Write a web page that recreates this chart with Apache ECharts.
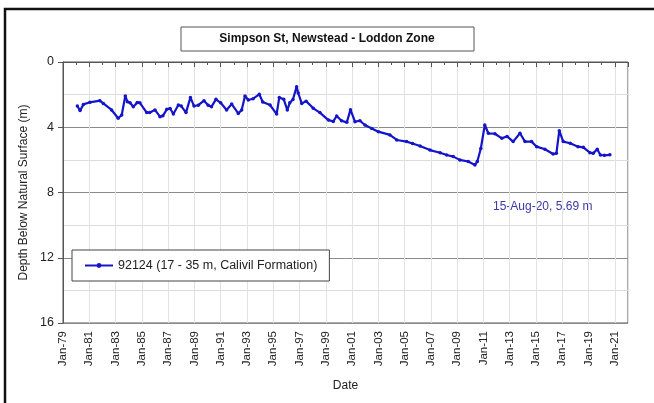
<!DOCTYPE html>
<html>
<head>
<meta charset="utf-8">
<script src="https://cdn.jsdelivr.net/npm/echarts@6/dist/echarts.min.js"></script>
<style>
  html, body { margin: 0; padding: 0; background: #fff; }
  #chart { width: 654px; height: 403px; }
</style>
</head>
<body>
<div id="chart"></div>
<script>
// bore 92124 readings: decimal year and depth below surface (m)
var years = [
  1980.09, 1980.3, 1980.55, 1981.05, 1981.8, 1982.07, 1982.7, 1983.2, 1983.47, 1983.74,
  1983.9, 1984.1, 1984.35, 1984.65, 1984.85, 1985.37, 1985.6, 1986.0, 1986.38, 1986.6,
  1986.9, 1987.15, 1987.4, 1987.78, 1988.0, 1988.36, 1988.7, 1988.97, 1989.3, 1989.73,
  1990.05, 1990.3, 1990.64, 1991.0, 1991.45, 1991.84, 1992.34, 1992.6, 1992.85, 1993.1,
  1993.47, 1993.94, 1994.2, 1994.76, 1995.26, 1995.46, 1995.8, 1996.07, 1996.26, 1996.5,
  1996.78, 1996.9, 1997.17, 1997.5, 1998.05, 1998.55, 1999.2, 1999.57, 1999.83, 2000.2,
  2000.6, 2000.88, 2001.22, 2001.6, 2001.98, 2002.5, 2003.0, 2003.88, 2004.4, 2005.15,
  2005.6, 2006.17, 2006.93, 2007.7, 2008.2, 2008.7, 2009.2, 2009.84, 2010.35, 2010.53,
  2010.8, 2011.1, 2011.37, 2011.87, 2012.4, 2012.8, 2013.26, 2013.78, 2014.16, 2014.66,
  2015.05, 2015.68, 2016.3, 2016.55, 2016.77, 2017.07, 2017.6, 2018.2, 2018.6, 2019.1,
  2019.35, 2019.66, 2019.9, 2020.2, 2020.62
];
var depths = [
  2.70, 2.98, 2.60, 2.47, 2.37, 2.54, 2.94, 3.45, 3.25, 2.08,
  2.43, 2.50, 2.74, 2.49, 2.50, 3.10, 3.10, 2.94, 3.35, 3.30,
  2.90, 2.85, 3.19, 2.64, 2.70, 3.10, 2.17, 2.70, 2.65, 2.37,
  2.65, 2.74, 2.29, 2.50, 2.94, 2.58, 3.15, 2.94, 2.08, 2.33,
  2.25, 1.98, 2.45, 2.64, 3.19, 2.17, 2.29, 2.94, 2.50, 2.30,
  1.51, 1.90, 2.54, 2.40, 2.84, 3.10, 3.56, 3.64, 3.31, 3.60,
  3.70, 2.92, 3.66, 3.60, 3.86, 4.07, 4.27, 4.47, 4.78, 4.88,
  5.00, 5.15, 5.40, 5.56, 5.70, 5.80, 6.00, 6.10, 6.31, 6.10,
  5.30, 3.86, 4.37, 4.40, 4.68, 4.56, 4.88, 4.37, 4.88, 4.88,
  5.19, 5.35, 5.64, 5.60, 4.21, 4.88, 4.98, 5.19, 5.23, 5.56,
  5.60, 5.35, 5.70, 5.72, 5.69
];
var seriesName = '92124 (17 - 35 m, Calivil Formation)';
var chartTitle = 'Simpson St, Newstead - Loddon Zone';
var latestNote = '15-Aug-20, 5.69 m';

var points = years.map(function (y, i) { return [y, depths[i]]; });

var chart = echarts.init(document.getElementById('chart'));
var font = 'Liberation Sans, Arial, sans-serif';

chart.setOption({
  animation: false,
  textStyle: { fontFamily: font },
  grid: {
    left: 63, top: 62, right: 26, bottom: 80,
    show: true, borderColor: '#555', borderWidth: 1
  },
  graphic: [
    {
      type: 'rect',
      shape: { x: 5, y: 9, width: 700, height: 500 },
      style: { fill: 'none', stroke: '#111', lineWidth: 2.5 },
      silent: true
    },
    {
      type: 'rect',
      shape: { x: 181, y: 27, width: 293, height: 24 },
      style: { fill: '#fff', stroke: '#555', lineWidth: 1 },
      silent: true
    },
    {
      type: 'text',
      x: 327, y: 39,
      style: {
        text: chartTitle, align: 'center', verticalAlign: 'middle',
        font: 'bold 12px ' + font, fill: '#111'
      }
    },
    {
      type: 'text',
      x: 493, y: 207,
      style: {
        text: latestNote, align: 'left', verticalAlign: 'middle',
        font: '12px ' + font, fill: '#3a3aa8'
      }
    }
  ],
  legend: {
    left: 72, top: 250,
    padding: [9, 12, 9, 12],
    width: 256,
    backgroundColor: '#fff',
    borderColor: '#444',
    borderWidth: 1,
    itemWidth: 28,
    itemHeight: 6,
    itemGap: 4,
    textStyle: { fontSize: 12.5, color: '#222', fontFamily: font },
    data: [seriesName]
  },
  xAxis: {
    type: 'value',
    min: 1979, max: 2022, interval: 2,
    name: 'Date', nameLocation: 'middle', nameGap: 57,
    nameTextStyle: { fontSize: 12, color: '#222' },
    axisLine: { lineStyle: { color: '#555' } },
    axisTick: { show: true, length: 5, lineStyle: { color: '#555' } },
    minorTick: { show: true, splitNumber: 2, length: 3, lineStyle: { color: '#555' } },
    axisLabel: {
      rotate: 90, fontSize: 11.5, color: '#222', margin: 8,
      showMaxLabel: false,
      formatter: function (v) {
        var yy = Math.round(v) % 100;
        return 'Jan-' + (yy < 10 ? '0' : '') + yy;
      }
    },
    splitLine: { show: true, lineStyle: { color: '#e2e2e2' } }
  },
  yAxis: {
    type: 'value',
    inverse: true,
    min: 0, max: 16, interval: 4,
    name: 'Depth Below Natural Surface (m)', nameLocation: 'middle', nameGap: 32,
    nameTextStyle: { fontSize: 12, color: '#222' },
    axisLine: { show: true, lineStyle: { color: '#555' } },
    axisTick: { show: true, length: 5, lineStyle: { color: '#555' } },
    axisLabel: { fontSize: 12.5, color: '#222', margin: 9 },
    splitLine: { show: true, lineStyle: { color: '#8a8a8a' } },
    minorTick: { show: false, splitNumber: 2 },
    minorSplitLine: { show: true, lineStyle: { color: '#dcdcdc' } }
  },
  series: [
    {
      name: seriesName,
      type: 'line',
      data: points,
      symbol: 'circle',
      symbolSize: 3.5,
      showSymbol: true,
      color: '#1414c8',
      lineStyle: { width: 2.2, color: '#1414c8' },
      itemStyle: { color: '#1414c8' }
    }
  ]
});
</script>
</body>
</html>
